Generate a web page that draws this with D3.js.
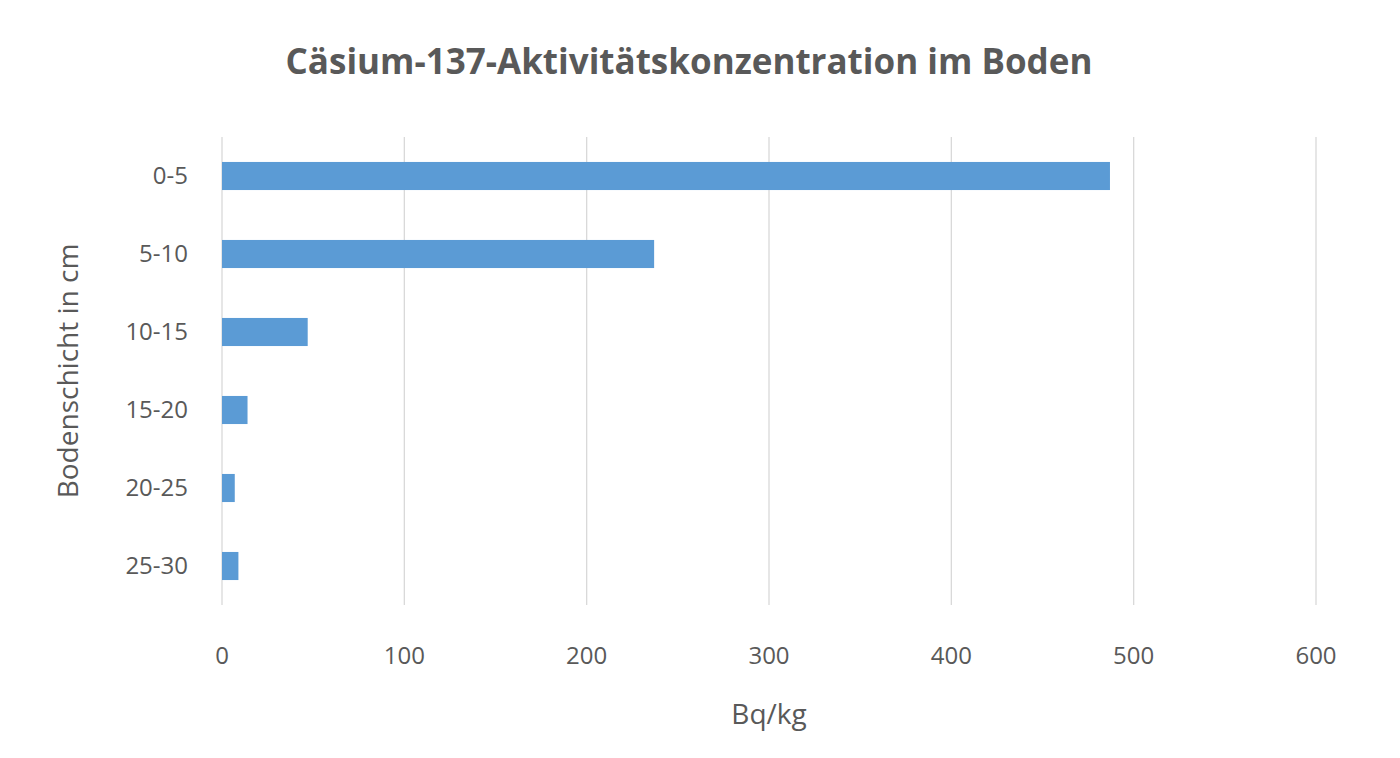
<!DOCTYPE html>
<html><head><meta charset="utf-8">
<script src="https://cdn.jsdelivr.net/npm/d3@7/dist/d3.min.js"></script>
<style>body{margin:0;background:#fff}</style></head>
<body><svg id="c" width="1400" height="758"></svg>
<script>
const categories = ["0-5","5-10","10-15","15-20","20-25","25-30"];
const values = [487, 237, 47, 14, 7, 9];
const xTicks = [0,100,200,300,400,500,600];

(function(){
const svg = d3.select("#c");
const font = "'Open Sans', 'Noto Sans', sans-serif";
const gray = "#595959";
const pl = 222, pr = 1316, pt = 137, pb = 605;
const x = d3.scaleLinear().domain([0,600]).range([pl,pr]);
const y = d3.scaleBand().domain(categories).range([pt,pb]).paddingInner(0.64).paddingOuter(0.32);

svg.append("g").selectAll("line").data(xTicks).join("line")
  .attr("x1",d=>x(d)).attr("x2",d=>x(d)).attr("y1",pt).attr("y2",pb)
  .attr("stroke","#d9d9d9").attr("stroke-width",1.3);

svg.append("g").selectAll("rect").data(values).join("rect")
  .attr("x",x(0)).attr("y",(d,i)=>y(categories[i]))
  .attr("width",d=>x(d)-x(0)).attr("height",y.bandwidth())
  .attr("fill","#5b9bd5");

svg.append("g").selectAll("text").data(xTicks).join("text")
  .attr("x",d=>x(d)).attr("y",664).attr("text-anchor","middle")
  .attr("font-family",font).attr("font-size",24).attr("fill",gray).text(d=>d);

svg.append("g").selectAll("text").data(categories).join("text")
  .attr("x",188).attr("y",d=>y(d)+y.bandwidth()/2+8).attr("text-anchor","end")
  .attr("font-family",font).attr("font-size",24).attr("fill",gray).text(d=>d);

svg.append("text").attr("x",689).attr("y",74).attr("text-anchor","middle")
  .attr("font-family",font).attr("font-size",35).attr("font-weight","bold").attr("fill",gray)
  .text("Cäsium-137-Aktivitätskonzentration im Boden");

svg.append("text").attr("x",769).attr("y",724).attr("text-anchor","middle")
  .attr("font-family",font).attr("font-size",28).attr("fill",gray).text("Bq/kg");

svg.append("text").attr("transform","translate(78,371) rotate(-90)").attr("text-anchor","middle")
  .attr("font-family",font).attr("font-size",28).attr("fill",gray).text("Bodenschicht in cm");
})();
</script></body></html>
